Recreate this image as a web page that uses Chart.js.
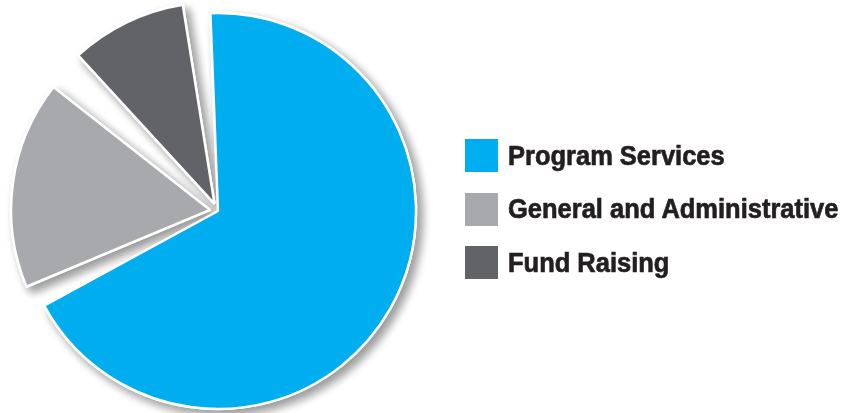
<!DOCTYPE html>
<html>
<head>
<meta charset="utf-8">
<script src="https://cdn.jsdelivr.net/npm/chart.js@4.4.1/dist/chart.umd.min.js"></script>
<style>
  html, body { margin: 0; padding: 0; background: #fff; }
  #wrap { position: relative; width: 841px; height: 413px; overflow: hidden; }
  #pie { position: absolute; left: 0; top: 0; }
  #legend { position: absolute; left: 465px; top: 139px; }
  .item { display: flex; align-items: center; height: 33px; margin-bottom: 20.5px; }
  .swatch { width: 33px; height: 33px; margin-right: 10px; flex: none; }
  .label {
    font-family: "Liberation Sans", Arial, sans-serif;
    font-weight: bold; font-size: 28px; color: #231f20; white-space: nowrap;
    -webkit-text-stroke: 0.7px #231f20;
    display: inline-block; transform: scaleX(0.91); transform-origin: 0 50%;
  }
</style>
</head>
<body>
<div id="wrap">
  <canvas id="pie" width="841" height="413"></canvas>
  <div id="legend"></div>
</div>
<script>
// data (percent of expenses)
const categories = ['Program Services', 'General and Administrative', 'Fund Raising'];
const shares = [72, 18, 10];

// look
const colors = ['#00aeef', '#a7a9ac', '#616369'];
const gapsDeg = [5.8, 9.1, 6.7];   // white wedge after each slice
const pullOut = [0, 32, 32];       // chart.js offset (drawn at 1/4)

const total = shares.reduce((a, b) => a + b, 0);
const gapTotal = gapsDeg.reduce((a, b) => a + b, 0);

// interleave invisible spacers so the slices keep the picture's wedges
const values = [], fills = [], borders = [], offsets = [];
shares.forEach((v, i) => {
	values.push(v);
	fills.push(colors[i]);
	borders.push(2.5);
	offsets.push(pullOut[i]);
	values.push(total * gapsDeg[i] / (360 - gapTotal));
	fills.push('rgba(0,0,0,0)');
	borders.push(0);
	offsets.push(0);
});

const softShadow = {
	id: 'softShadow',
	beforeDatasetsDraw(chart) {
		const ctx = chart.ctx;
		ctx.save();
		ctx.shadowColor = 'rgba(0,0,0,0.4)';
		ctx.shadowBlur = 10;
		ctx.shadowOffsetX = 5;
		ctx.shadowOffsetY = 5;
		chart.getDatasetMeta(0).data.forEach(arc => arc.draw(ctx));
		ctx.restore();
	}
};

new Chart(document.getElementById('pie'), {
	type: 'pie',
	data: {
		labels: categories.flatMap(c => [c, '']),
		datasets: [{
			data: values,
			backgroundColor: fills,
			borderColor: '#ffffff',
			borderWidth: borders,
			offset: offsets,
			hoverOffset: 0
		}]
	},
	options: {
		responsive: false,
		animation: false,
		events: [],
		rotation: -2.2,
		radius: 198,
		layout: { padding: { left: 0, right: 405, top: 9, bottom: 0 } },
		plugins: { legend: { display: false }, tooltip: { enabled: false } }
	},
	plugins: [softShadow]
});

const uiLegend = document.getElementById('legend');
categories.forEach((name, i) => {
	const row = document.createElement('div');
	row.className = 'item';
	row.innerHTML = '<span class="swatch" style="background:' + colors[i] + '"></span>' +
		'<span class="label">' + name + '</span>';
	uiLegend.appendChild(row);
});
</script>
</body>
</html>
